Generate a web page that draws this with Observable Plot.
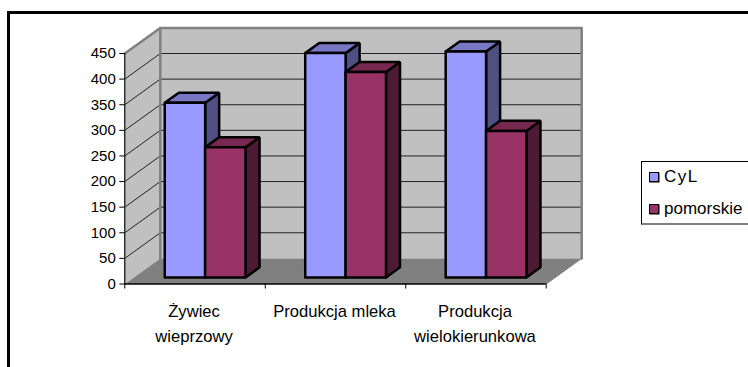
<!DOCTYPE html>
<html>
<head>
<meta charset="utf-8">
<script src="https://cdn.jsdelivr.net/npm/d3@7"></script>
<script src="https://cdn.jsdelivr.net/npm/@observablehq/plot@0.6"></script>
<style>
  html, body { margin: 0; padding: 0; background: #fff; overflow: hidden; }
  #page { position: relative; width: 748px; height: 367px; overflow: hidden; font-family: "Liberation Sans", Arial, sans-serif; }
  #chart { position: absolute; left: 0; top: 0; }
  #border { position: absolute; left: 7px; top: 11px; width: 760px; height: 380px; border-left: 3px solid #000; border-top: 3px solid #000; }
  #legend { position: absolute; left: 641px; top: 161px; width: 120px; height: 61px; border: 1px solid #000; border-bottom: 2px solid #808080; background: #fff; font-size: 17px; color: #000; }
  .row { position: absolute; left: 7px; display: flex; align-items: center; height: 16px; white-space: nowrap; }
  .sw { width: 8px; height: 8px; border: 1.5px solid #000; margin-right: 5px; box-shadow: 0.5px 0.5px 0 #000; }
</style>
</head>
<body>
<div id="page">
  <div id="chart"></div>
  <div id="border"></div>
  <div id="legend"></div>
</div>
<script>
const categories = ["Żywiec\nwieprzowy", "Produkcja mleka", "Produkcja\nwielokierunkowa"];
const seriesNames = ["CyL", "pomorskie"];
const cylValues = [341, 438, 441];
const pomorskieValues = [254, 401, 286];
const valueTicks = [0, 50, 100, 150, 200, 250, 300, 350, 400, 450];
const gridTicks = [50, 100, 150, 200, 250, 300, 350, 400, 450];
const categorySlots = [0, 1, 2, 3];

const blueFaces = { front: "#9999ff", top: "#7777c4", side: "#4f4f82" };
const redFaces = { front: "#993366", top: "#77284f", side: "#4d1a33" };

// Oblique projection: a point (category position, value, depth 0..1) in data units.
const depthX = 0.2527, depthY = 50;
const P = (c, v, d = 0) => [c + d * depthX, v + d * depthY];
const poly = (pts, fill, stroke = "none", strokeWidth = 1) =>
  Plot.line([...pts, pts[0]], { x: p => p[0], y: p => p[1], fill, stroke, strokeWidth, strokeLinejoin: "miter" });

const marks = [];
// Walls and floor
marks.push(poly([P(0, 0), P(0, 0, 1), P(0, 450, 1), P(0, 450)], "#c0c0c0"));
marks.push(poly([P(0, 0, 1), P(3, 0, 1), P(3, 450, 1), P(0, 450, 1)], "#c0c0c0"));
marks.push(poly([P(0, 0), P(3, 0), P(3, 0, 1), P(0, 0, 1)], "#808080"));
// Gridlines
gridTicks.forEach(v => {
  marks.push(Plot.line([P(0, v), P(0, v, 1), P(3, v, 1)], { x: p => p[0], y: p => p[1], stroke: "#222", strokeWidth: 1 }));
});
// Wall edges
marks.push(Plot.line([P(0, 450), P(0, 450, 1), P(3, 450, 1), P(3, 0, 1)], { x: p => p[0], y: p => p[1], stroke: "#808080", strokeWidth: 2.5 }));
marks.push(Plot.line([P(0, 450, 1), P(0, 0, 1)], { x: p => p[0], y: p => p[1], stroke: "#808080", strokeWidth: 2.5 }));
marks.push(Plot.line([P(0, 450), P(0, 0)], { x: p => p[0], y: p => p[1], stroke: "#808080", strokeWidth: 1 }));
marks.push(Plot.line([P(3, 0), P(3, 0, 1)], { x: p => p[0], y: p => p[1], stroke: "#808080", strokeWidth: 1 }));

// Bars
const barOffset = 0.22, barWidth = 0.2875, d0 = 0.255, d1 = 0.65;
function bar(x0, x1, v, faces) {
  const line = "#000", sw = 2.5;
  marks.push(poly([P(x1, 0, d0), P(x1, 0, d1), P(x1, v, d1), P(x1, v, d0)], faces.side, line, sw));
  marks.push(poly([P(x0, v, d0), P(x1, v, d0), P(x1, v, d1), P(x0, v, d1)], faces.top, line, sw));
  marks.push(poly([P(x0, 0, d0), P(x1, 0, d0), P(x1, v, d0), P(x0, v, d0)], faces.front, line, sw));
}
categories.forEach((_, i) => {
  bar(i + barOffset, i + barOffset + barWidth, cylValues[i], blueFaces);
  bar(i + barOffset + barWidth, i + barOffset + 2 * barWidth, pomorskieValues[i], redFaces);
});

// Axes
marks.push(Plot.ruleX([0], { y1: 0, y2: 450, stroke: "#000", strokeWidth: 1 }));
marks.push(Plot.ruleY([0], { x1: 0, x2: 3, stroke: "#000", strokeWidth: 1.5 }));
marks.push(Plot.axisY({ ticks: valueTicks, anchor: "left", tickSize: 5, tickPadding: 4, label: null, fontSize: 15, stroke: "#000", fill: "#000" }));
marks.push(Plot.axisX({ ticks: categorySlots, anchor: "bottom", tickSize: 5, tickFormat: () => "", label: null, stroke: "#000" }));
marks.push(Plot.text(categories, {
  x: (_, i) => i + 0.5,
  y: () => 0,
  text: d => d,
  dx: -1,
  dy: 15,
  lineAnchor: "top",
  lineHeight: 1.5,
  fontSize: 16.6,
  fill: "#000"
}));

const chart = Plot.plot({
  width: 748,
  height: 367,
  marginLeft: 124.3,
  marginRight: 202.3,
  marginTop: 53,
  marginBottom: 83.5,
  x: { domain: [0, 3] },
  y: { domain: [0, 450] },
  style: { fontFamily: "'Liberation Sans', Arial, sans-serif", background: "white", overflow: "visible", color: "#000" },
  marks
});
document.getElementById("chart").appendChild(chart);

const legend = document.getElementById("legend");
[[seriesNames[0], blueFaces.front, 7, "1.5px"], [seriesNames[1], redFaces.front, 39, "0"]].forEach(([name, color, top, spacing]) => {
  const row = document.createElement("div");
  row.className = "row";
  row.style.top = top + "px";
  row.style.letterSpacing = spacing;
  const sw = document.createElement("span");
  sw.className = "sw";
  sw.style.background = color;
  row.appendChild(sw);
  row.appendChild(document.createTextNode(name));
  legend.appendChild(row);
});
</script>
</body>
</html>
